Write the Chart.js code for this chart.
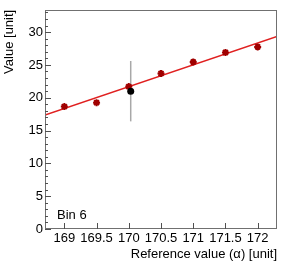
<!DOCTYPE html>
<html><head><meta charset="utf-8">
<script src="https://cdn.jsdelivr.net/npm/chart.js@4/dist/chart.umd.min.js"></script>
<style>html,body{margin:0;padding:0;background:#fff}#c{display:block}</style>
</head><body>
<canvas id="c" width="283" height="274"></canvas>
<script>
const refX = [169, 169.5, 170, 170.5, 171, 171.5, 172];
const refY = [18.65, 19.25, 21.7, 23.7, 25.45, 26.9, 27.75];
const refErr = [0.35, 0.35, 0.35, 0.35, 0.35, 0.35, 0.35];
const measX = [170.03];
const measY = [21.0];
const measLo = [16.4];
const measHi = [25.6];
const fitX = [168.7, 172.3];
const fitY = [17.35, 29.35];
const xTicks = [169, 169.5, 170, 170.5, 171, 171.5, 172];
const yTicks = [0, 5, 10, 15, 20, 25, 30];
const yMinor = [1,2,3,4,6,7,8,9,11,12,13,14,16,17,18,19,21,22,23,24,26,27,28,29,31,32,33];
const xTitle = 'Reference value (\u03b1) [unit]';
const yTitle = 'Value [unit]';
const label = 'Bin 6';

const FONT = '"Liberation Sans", Arial, sans-serif';

const deco = {
  id: 'deco',
  beforeDatasetsDraw(chart) {
    const ctx = chart.ctx, xs = chart.scales.x, ys = chart.scales.y;
    ctx.save();
    ctx.strokeStyle = 'rgba(220,80,80,0.6)';
    ctx.lineWidth = 1;
    refX.forEach((x, i) => {
      const px = xs.getPixelForValue(x);
      ctx.beginPath();
      ctx.moveTo(px, ys.getPixelForValue(refY[i] - refErr[i]));
      ctx.lineTo(px, ys.getPixelForValue(refY[i] + refErr[i]));
      ctx.stroke();
    });
    ctx.strokeStyle = '#a8a8a8';
    ctx.lineWidth = 1.5;
    measX.forEach((x, i) => {
      const px = xs.getPixelForValue(x);
      ctx.beginPath();
      ctx.moveTo(px, ys.getPixelForValue(measLo[i]));
      ctx.lineTo(px, ys.getPixelForValue(measHi[i]));
      ctx.stroke();
    });
    ctx.restore();
  },
  afterDraw(chart) {
    const ctx = chart.ctx, a = chart.chartArea, xs = chart.scales.x, ys = chart.scales.y;
    ctx.save();
    ctx.strokeStyle = '#707070';
    ctx.lineWidth = 1;
    ctx.strokeRect(Math.round(a.left) + 0.5, Math.round(a.top) + 0.5, Math.round(a.right - a.left) - 1, Math.round(a.bottom - a.top) - 1);
    ctx.strokeStyle = '#505050';
    ctx.beginPath();
    yTicks.forEach(v => {
      const py = Math.round(ys.getPixelForValue(v)) + 0.5;
      ctx.moveTo(a.left, py); ctx.lineTo(a.left + 6, py);
    });
    yMinor.forEach(v => {
      const py = Math.round(ys.getPixelForValue(v)) + 0.5;
      ctx.moveTo(a.left, py); ctx.lineTo(a.left + 3, py);
    });
    xTicks.forEach(v => {
      const px = Math.round(xs.getPixelForValue(v)) + 0.5;
      ctx.moveTo(px, a.bottom); ctx.lineTo(px, a.bottom - 6);
    });
    ctx.stroke();
    ctx.fillStyle = '#000';
    ctx.font = '13px ' + FONT;
    ctx.textAlign = 'left';
    ctx.textBaseline = 'alphabetic';
    ctx.fillText(label, a.left + 12, a.bottom - 10);
    ctx.textAlign = 'right';
    ctx.textBaseline = 'middle';
    ctx.fillText(xTitle, a.right, 254);
    ctx.translate(9, a.top);
    ctx.rotate(-Math.PI / 2);
    ctx.textAlign = 'right';
    ctx.fillText(yTitle, 0, 0);
    ctx.restore();
  }
};

new Chart(document.getElementById('c'), {
  type: 'scatter',
  data: {
    datasets: [
      { type: 'line', data: fitX.map((x, i) => ({x, y: fitY[i]})), borderColor: '#e02020', borderWidth: 1.5, pointRadius: 0, order: 2 },
      { data: refX.map((x, i) => ({x, y: refY[i]})), pointStyle: 'star', radius: 3.5, backgroundColor: '#a00000', borderColor: '#a00000', borderWidth: 2, order: 1 },
      { data: measX.map((x, i) => ({x, y: measY[i]})), pointStyle: 'circle', radius: 3.5, backgroundColor: '#000', borderColor: '#000', borderWidth: 0, order: 0 }
    ]
  },
  options: {
    responsive: false,
    animation: false,
    devicePixelRatio: 1,
    layout: { padding: { top: 5, right: 6, left: 0, bottom: 0 } },
    plugins: { legend: { display: false }, tooltip: { enabled: false } },
    scales: {
      x: {
        type: 'linear', min: 168.7, max: 172.3,
        afterBuildTicks: s => { s.ticks = xTicks.map(v => ({value: v})); },
        afterFit: s => { s.height = 45; },
        grid: { display: false, drawTicks: false },
        border: { display: false },
        ticks: { padding: 2, color: '#000', font: { family: FONT, size: 13 }, callback: v => String(v) }
      },
      y: {
        type: 'linear', min: 0, max: 33.4,
        afterBuildTicks: s => { s.ticks = yTicks.map(v => ({value: v})); },
        afterFit: s => { s.width = 45; },
        grid: { display: false, drawTicks: false },
        border: { display: false },
        ticks: { padding: 2, color: '#000', font: { family: FONT, size: 13 }, callback: v => String(v) }
      }
    }
  },
  plugins: [deco]
});
</script>
</body></html>
